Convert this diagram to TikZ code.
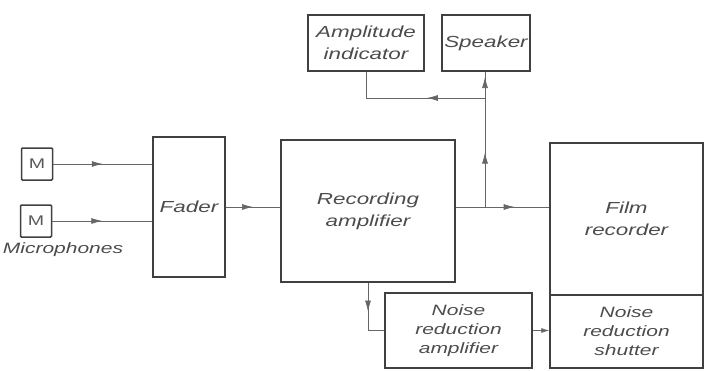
\documentclass[tikz,border=0pt]{standalone}
\usepackage{fontspec}
\newfontfamily\hand[FakeStretch=1.4]{Liberation Sans}
\usetikzlibrary{arrows.meta,decorations.markings}

\begin{document}
\begin{tikzpicture}[x=1pt,y=-1pt,
 blk/.style={draw=black!75,line width=1.5pt,inner sep=0pt,align=center,text=black!70,font=\hand\itshape\fontsize{16}{22}\selectfont},
 blkiii/.style={blk,font=\hand\itshape\fontsize{15}{19}\selectfont},
 mic/.style={draw=black!75,line width=1.5pt,rounded corners=1pt,minimum width=31,minimum height=32,text=black!65,font=\hand\fontsize{14}{14}\selectfont},
 wire/.style={draw=black!60,line width=.7pt},
 midtip/.style={wire,postaction={decorate},decoration={markings,mark=at position #1 with {\arrow{Latex[length=11pt,width=6pt]}}}},
 midtip/.default=.5]
\useasboundingbox(0,0)rectangle(706,370);
% microphones and fader
\node[mic](m1)at(37,164){M};\node[mic](m2)at(36,221){M};
\node[text=black!70,font=\hand\itshape\fontsize{15}{15}\selectfont](miclbl)at(63,250){Microphones};
\node[blk,minimum width=72,minimum height=140](fader)at(189,207){Fader};
% main chain
\node[blk,minimum width=174,minimum height=142](rec)at(368,211){Recording\\amplifier};
\node[blk,minimum width=116,minimum height=56](amp)at(366,43){Amplitude\\indicator};
\node[blk,minimum width=88,minimum height=56](spk)at(486,43){Speaker};
\node[blk,minimum width=153,minimum height=152](film)at(626.5,219){Film\\recorder};
\node[blkiii,minimum width=147,minimum height=75](nra)at(458.5,330.5){Noise\\reduction\\amplifier};
\node[blkiii,minimum width=153,minimum height=73](nrs)at(626.5,331.5){Noise\\reduction\\shutter};
% connectors
\draw[midtip](m1.east)--(m1.east-|fader.west);\draw[midtip](m2.east)--(m2.east-|fader.west);
\draw[midtip](fader.east)--(fader.east-|rec.west);
\coordinate(tap)at(485,207);\coordinate(split)at(485,98);
\draw[midtip=.63](tap-|rec.east)--(tap-|film.west);
\draw[midtip](tap)--(split);\draw[midtip=.8](split)--(split|-spk.south);
\draw[midtip=.4](split)--(split-|amp.south)--(amp.south);
\coordinate(bend)at(rec.south|-nra.west);
\draw[midtip=.45](rec.south)--(bend)--(nra.west);
\draw[wire,-{Latex[length=8pt,width=5pt]}](nra.east)--(nra.east-|nrs.west);
\end{tikzpicture}
\end{document}
